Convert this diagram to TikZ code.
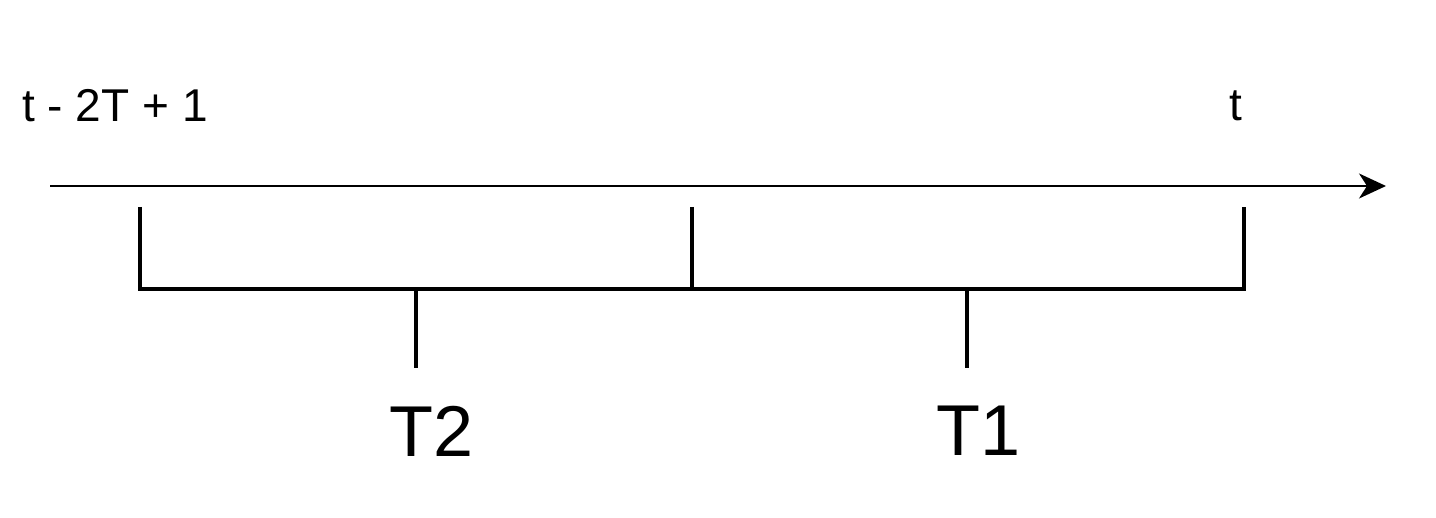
\documentclass[tikz,border=0pt]{standalone}
\usepackage{fontspec}
\setmainfont{Liberation Sans}
\usetikzlibrary{arrows.meta}
\begin{document}
\begin{tikzpicture}[x=1pt,y=-1pt,
  axis/.style={line width=2pt,-{Stealth[length=27pt,width=25pt,inset=8pt]}},
  brk/.style={line width=4pt},
  small/.style={font=\fontsize{46}{54}\selectfont,inner sep=0pt},
  big/.style={font=\fontsize{72}{86}\selectfont,inner sep=0pt}]
\useasboundingbox (0,0) rectangle (1436,518);
\coordinate (a0) at (50,186);
\coordinate (a1) at (1386,186);
\draw[axis] (a0) -- (a1);
\coordinate (l) at (140,207);
\coordinate (lb) at (140,289);
\coordinate (m) at (692,207);
\coordinate (mb) at (692,289);
\coordinate (r) at (1244,207);
\coordinate (rb) at (1244,289);
\draw[brk,line join=miter] (l) -- (lb) -- (rb) -- (r);
\draw[brk] (m) -- (mb);
\coordinate (t2a) at (416,289);
\coordinate (t2b) at (416,368);
\coordinate (t1a) at (967,289);
\coordinate (t1b) at (967,368);
\draw[brk] (t2a) -- (t2b);
\draw[brk] (t1a) -- (t1b);
\node[small] (lab0) at (115,106) {t - 2T + 1};
\node[small] (lab1) at (1236,106) {t};
\node[big] (T2) at (432,431) {T2};
\node[big] (T1) at (979,431) {T1};
\end{tikzpicture}
\end{document}
